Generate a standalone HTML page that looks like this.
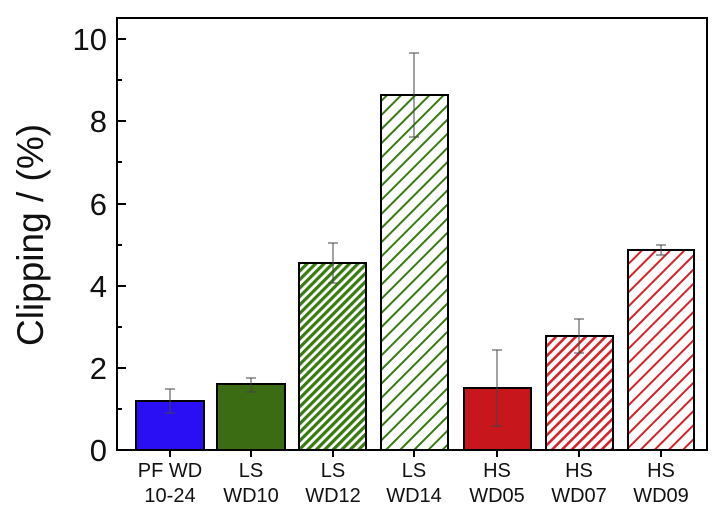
<!DOCTYPE html><html><head><style>body{margin:0;background:#fff}</style></head><body>
<svg width="713" height="521" xmlns="http://www.w3.org/2000/svg" font-family="Liberation Sans, sans-serif">
<defs>
<pattern id="gd" width="6" height="6" patternUnits="userSpaceOnUse" patternTransform="rotate(45)"><rect width="6" height="6" fill="#fff"/><rect width="3.2" height="6" fill="#3a7a12"/></pattern>
<pattern id="gs" width="10" height="10" patternUnits="userSpaceOnUse" patternTransform="rotate(45)"><rect width="10" height="10" fill="#fff"/><rect width="2" height="10" fill="#3a7a12"/></pattern>
<pattern id="rd" width="7" height="7" patternUnits="userSpaceOnUse" patternTransform="rotate(45)"><rect width="7" height="7" fill="#fff"/><rect width="2.6" height="7" fill="#d4222a"/></pattern>
<pattern id="rs" width="10" height="10" patternUnits="userSpaceOnUse" patternTransform="rotate(45)"><rect width="10" height="10" fill="#fff"/><rect width="2" height="10" fill="#d4222a"/></pattern>
</defs>
<g stroke="#000" stroke-width="2">
<rect x="136" y="401" width="68" height="49" fill="#2a0ff5"/>
<rect x="217" y="384" width="68" height="66" fill="#3b6b12"/>
<rect x="299" y="263" width="67" height="187" fill="url(#gd)"/>
<rect x="381" y="95" width="67" height="355" fill="url(#gs)"/>
<rect x="464" y="388" width="67" height="62" fill="#c8161d"/>
<rect x="546" y="336" width="67" height="114" fill="url(#rd)"/>
<rect x="628" y="250" width="66" height="200" fill="url(#rs)"/>
</g>
<g stroke="#444" stroke-width="1">
<path d="M170 389V413M165 389h10M165 413h10"/>
<path d="M251 378V392M246 378h10M246 392h10"/>
<path d="M333 243V283M328 243h10M328 283h10"/>
<path d="M414 53V137M409 53h10M409 137h10"/>
<path d="M497 350V426M492 350h10M492 426h10"/>
<path d="M579 319V353M574 319h10M574 353h10"/>
<path d="M661 245V255M656 245h10M656 255h10"/>
</g>
<rect x="117" y="18" width="590" height="432" fill="none" stroke="#000" stroke-width="2"/>
<g stroke="#000" stroke-width="2">
<path d="M117 39h9M117 121h9M117 204h9M117 286h9M117 368h9M117 80h5M117 162h5M117 245h5M117 327h5M117 409h5"/>
<path d="M170 450v7M251 450v7M333 450v7M414 450v7M497 450v7M579 450v7M661 450v7"/>
</g>
<g font-size="31" text-anchor="end" fill="#111">
<text x="107" y="50">10</text><text x="107" y="132">8</text><text x="107" y="215">6</text><text x="107" y="297">4</text><text x="107" y="379">2</text><text x="107" y="461">0</text>
</g>
<text transform="translate(43 235) rotate(-90)" font-size="37" text-anchor="middle" fill="#111">Clipping / (%)</text>
<g font-size="20" text-anchor="middle" fill="#111">
<text x="170" y="477">PF WD</text><text x="170" y="502">10-24</text>
<text x="251" y="477">LS</text><text x="251" y="502">WD10</text>
<text x="333" y="477">LS</text><text x="333" y="502">WD12</text>
<text x="414" y="477">LS</text><text x="414" y="502">WD14</text>
<text x="497" y="477">HS</text><text x="497" y="502">WD05</text>
<text x="579" y="477">HS</text><text x="579" y="502">WD07</text>
<text x="661" y="477">HS</text><text x="661" y="502">WD09</text>
</g>
</svg>
</body></html>
